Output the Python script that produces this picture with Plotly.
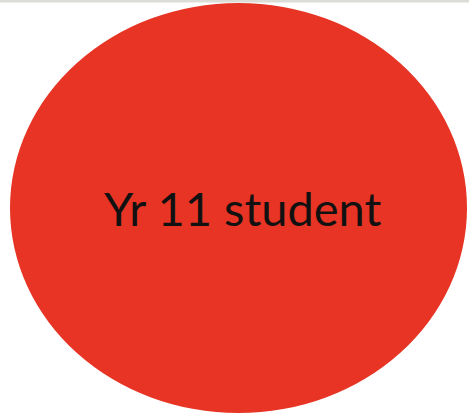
import plotly.graph_objects as go

W, H = 469, 415
label = "Yr 11 student"
ellipse_x = [10, 467]
ellipse_y = [3, 413]
fill_color = "#e73424"

fig = go.Figure()
fig.add_shape(type="rect", xref="x", yref="y", x0=0, x1=W, y0=0, y1=2.5,
              fillcolor="#dcdcd6", line=dict(width=0), layer="below")
fig.add_shape(type="circle", xref="x", yref="y",
              x0=ellipse_x[0], x1=ellipse_x[1], y0=ellipse_y[0], y1=ellipse_y[1],
              fillcolor=fill_color, line=dict(width=0))
fig.add_annotation(x=242.5, y=208, xref="x", yref="y", text=label, showarrow=False,
                   font=dict(family="Lato", size=47, color="#111111"),
                   xanchor="center", yanchor="middle")
fig.update_xaxes(range=[0, W], visible=False, fixedrange=True)
fig.update_yaxes(range=[H, 0], visible=False, fixedrange=True)
fig.update_layout(width=W, height=H, margin=dict(l=0, r=0, t=0, b=0),
                  paper_bgcolor="white", plot_bgcolor="white", showlegend=False)
fig.write_html("out.html", config={"displayModeBar": False},
               post_script="document.body.style.margin='0';document.body.style.overflow='hidden';")
